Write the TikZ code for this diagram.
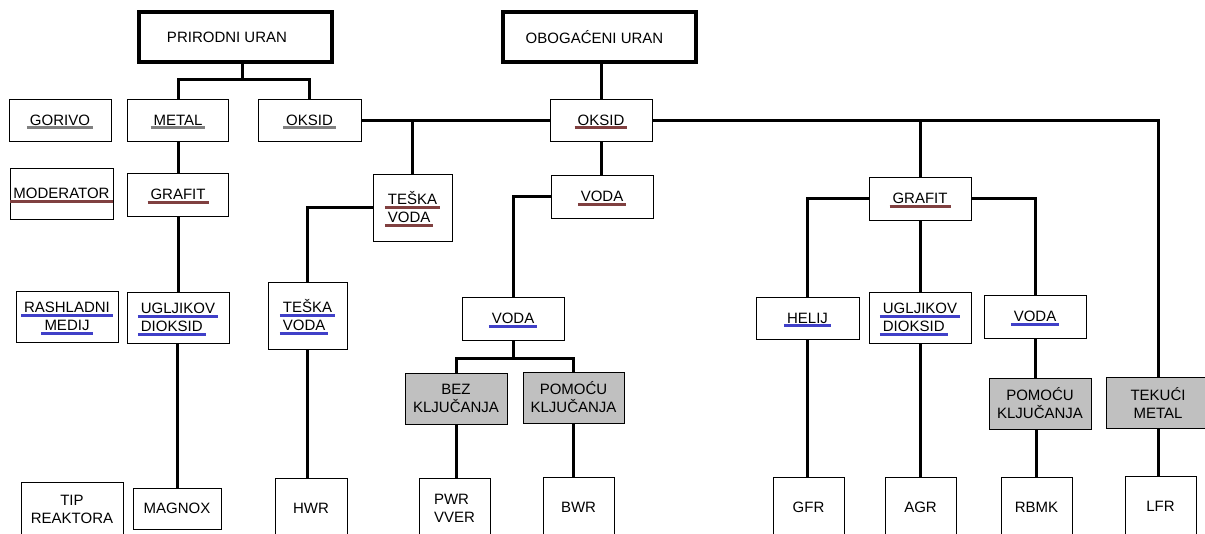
\documentclass[tikz,border=0pt]{standalone}
\usepackage{fontspec}
\setmainfont{Liberation Sans}
\definecolor{ulgray}{RGB}{128,128,128}
\definecolor{ulbrown}{RGB}{128,64,64}
\definecolor{ulblue}{RGB}{64,64,200}
\definecolor{boxgray}{RGB}{192,192,192}
% coloured underline under a word
\newsavebox{\ulbox}
\newcommand{\ulc}[2]{\sbox{\ulbox}{#2}\leavevmode\rlap{\hspace{-3pt}\raisebox{0pt}[0pt][0pt]{\color{#1}\rule[-4pt]{\dimexpr\wd\ulbox+6pt\relax}{2.7pt}}}\usebox{\ulbox}}

\begin{document}
\begin{tikzpicture}[x=1pt,y=-1pt,
  box/.style={draw,line width=1pt,fill=white,inner sep=0pt,font=\fontsize{15}{18}\selectfont},
  topbox/.style={box,line width=4pt,minimum width=193,minimum height=50},
  graybox/.style={box,fill=boxgray,align=center,minimum width=102,minimum height=51},
  typebox/.style={box,minimum width=71,minimum height=60},
  conn/.style={line width=3pt}]
\useasboundingbox (0,0) rectangle (1205,533);

% top
\node[topbox] (pu) at (235.5,37) {PRIRODNI URAN\hspace*{17pt}};
\node[topbox] (ou) at (599,37) {OBOGAĆENI URAN\hspace*{9pt}};

% legend column
\node[box,minimum width=102,minimum height=42] (gorivo) at (60,120) {\ulc{ulgray}{GORIVO}};
\node[box,minimum width=103,minimum height=51] (moder) at (61.5,193.5) {\ulc{ulbrown}{MODERATOR}};
\node[box,align=center,minimum width=102,minimum height=51] (rash) at (67,316.5) {\ulc{ulblue}{RASHLADNI}\\\ulc{ulblue}{MEDIJ}};
\node[box,align=center,minimum width=102,minimum height=55] (tip) at (72,509.5) {TIP\\REAKTORA};

% fuel
\node[box,minimum width=101,minimum height=42] (metal) at (178,120) {\ulc{ulgray}{METAL}};
\node[box,minimum width=103,minimum height=42] (oksL) at (309.5,120) {\ulc{ulgray}{OKSID}};
\node[box,minimum width=102,minimum height=42] (oksM) at (601,120) {\ulc{ulbrown}{OKSID}};

% moderator
\node[box,minimum width=101,minimum height=43] (grafL) at (178,194.5) {\ulc{ulbrown}{GRAFIT}};
\node[box,align=left,minimum width=79,minimum height=67] (tvU) at (412.5,207.5) {\ulc{ulbrown}{TEŠKA}\\\ulc{ulbrown}{VODA}};
\node[box,minimum width=102,minimum height=43] (vodaU) at (602,196.5) {\ulc{ulbrown}{VODA}};
\node[box,minimum width=102,minimum height=43] (grafR) at (920,198.5) {\ulc{ulbrown}{GRAFIT}};

% coolant
\node[box,align=left,minimum width=102,minimum height=51] (uglL) at (178,317.5) {\ulc{ulblue}{UGLJIKOV}\\\ulc{ulblue}{DIOKSID}};
\node[box,align=left,minimum width=79,minimum height=67] (tvL) at (307.5,315.5) {\ulc{ulblue}{TEŠKA}\\\ulc{ulblue}{VODA}};
\node[box,minimum width=102,minimum height=43] (vodaL) at (513,318.5) {\ulc{ulblue}{VODA}};
\node[box,minimum width=103,minimum height=42] (helij) at (807.5,318) {\ulc{ulblue}{HELIJ}};
\node[box,align=left,minimum width=102,minimum height=51] (uglR) at (920,317.5) {\ulc{ulblue}{UGLJIKOV}\\\ulc{ulblue}{DIOKSID}};
\node[box,minimum width=102,minimum height=43] (vodaR) at (1035,316.5) {\ulc{ulblue}{VODA}};

% boiling
\node[graybox] (bez) at (456,398.5) {BEZ\\KLJUČANJA};
\node[graybox,minimum width=101] (pomM) at (573.5,397.5) {POMOĆU\\KLJUČANJA};
\node[graybox] (pomR) at (1040,403.5) {POMOĆU\\KLJUČANJA};
\node[graybox,minimum width=104] (tek) at (1158,402.5) {TEKUĆI\\METAL};

% reactor types
\node[box,minimum width=88,minimum height=41] (magnox) at (177,508.5) {MAGNOX};
\node[typebox,minimum width=72] (hwr) at (311,508) {HWR};
\node[typebox,align=left] (pwr) at (454.5,508) {PWR\\VVER};
\node[typebox] (bwr) at (578.5,507.5) {BWR};
\node[typebox] (gfr) at (808.5,507) {GFR};
\node[typebox] (agr) at (920.5,507) {AGR};
\node[typebox] (rbmk) at (1036.5,507) {RBMK};
\node[typebox] (lfr) at (1160.5,506.5) {LFR};

% connectors
\coordinate (j1) at (242,79);
\coordinate (j2) at (514,358);
\draw[conn] (metal.north) |- (j1) -| (oksL.north);
\draw[conn] (j1) -- (j1 |- pu.south);
\draw[conn] (oksM.north) -- (oksM.north |- ou.south);
\draw[conn] (oksL.east) -- (oksM.west);
\draw[conn] (tvU.north) -- (tvU.north |- oksM.west);
\draw[conn] (oksM.east) -| (tek.north);
\draw[conn] (grafR.north) -- (grafR.north |- oksM.east);
\draw[conn] (metal.south) -- (grafL.north);
\draw[conn] (grafL.south) -- (grafL.south |- uglL.north);
\draw[conn] (magnox.north) -- (magnox.north |- uglL.south);
\draw[conn] (tvU.west) -| (tvL.north);
\draw[conn] (tvL.south) -- (tvL.south |- hwr.north);
\draw[conn] (oksM.south) -- (oksM.south |- vodaU.north);
\draw[conn] (vodaU.west) -| (vodaL.north);
\draw[conn] (vodaL.south) -- (vodaL.south |- j2);
\draw[conn] (bez.north) |- (j2) -| (pomM.north);
\draw[conn] (bez.south) -- (bez.south |- pwr.north);
\draw[conn] (pomM.south) -- (pomM.south |- bwr.north);
\draw[conn] (grafR.west) -| (helij.north);
\draw[conn] (grafR.east) -| (vodaR.north);
\draw[conn] (grafR.south) -- (uglR.north);
\draw[conn] (helij.south) -- (helij.south |- gfr.north);
\draw[conn] (uglR.south) -- (uglR.south |- agr.north);
\draw[conn] (vodaR.south) -- (vodaR.south |- pomR.north);
\draw[conn] (rbmk.north) -- (rbmk.north |- pomR.south);
\draw[conn] (tek.south) -- (tek.south |- lfr.north);
\end{tikzpicture}
\end{document}
